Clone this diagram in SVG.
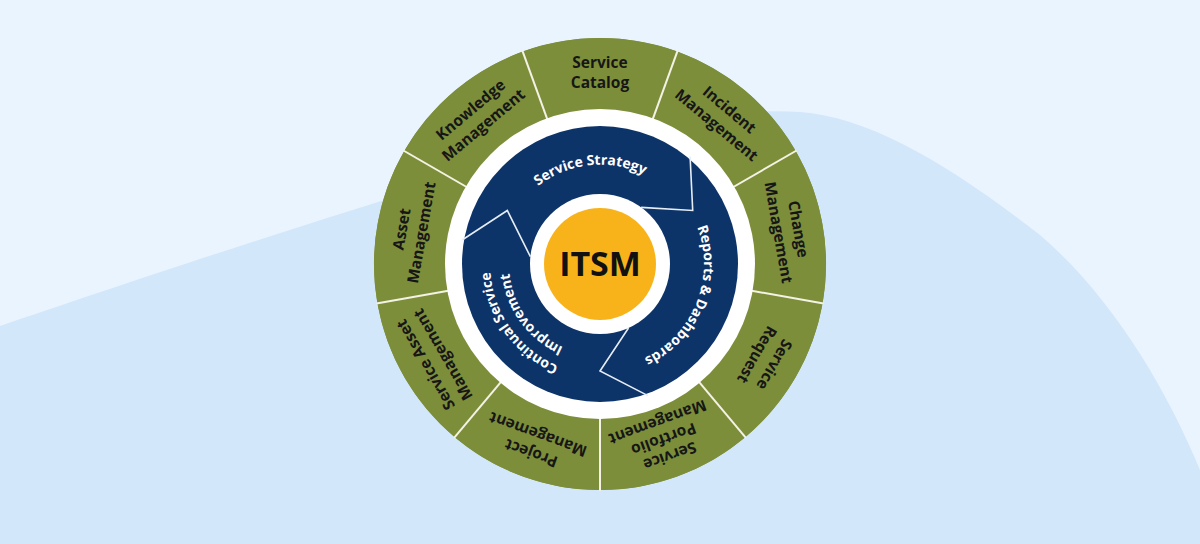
<svg xmlns="http://www.w3.org/2000/svg" xmlns:xlink="http://www.w3.org/1999/xlink" width="1200" height="544" viewBox="0 0 1200 544">
<style>
.bg{fill:#eaf4fe}
.wave{fill:#d3e7fb}
.sector{fill:#7d8e3b}
.seg{font-family:"Open Sans","Liberation Sans",sans-serif;font-weight:700;font-size:15.5px;fill:#161616;text-anchor:middle}
.arc{font-family:"Open Sans","Liberation Sans",sans-serif;font-weight:700;font-size:14px;fill:#ffffff}
.div{stroke:#f4f2e4;stroke-width:2}
.chev{fill:none;stroke:#e6edf5;stroke-width:1.6;stroke-linejoin:miter}
</style>
<defs>
<path id="sector" d="M522.7,51.6 A226,226 0 0 1 677.3,51.6 L653.0,118.35 A155,155 0 0 0 547.0,118.35 Z"/>
<line id="divider" x1="600" y1="110" x2="600" y2="37"/>
<path id="p-strategy" d="M498.6,274.7 A102,102 0 0 1 701.4,253.3"/>
<path id="p-reports" d="M638.96,167.57 A104,104 0 0 1 561.04,360.43"/>
<path id="p-csi1" d="M664.66,352.99 A110,110 0 0 1 535.34,175.01"/>
<path id="p-csi2" d="M653.49,337.62 A91,91 0 0 1 546.51,190.38"/>
</defs>
<rect class="bg" x="0" y="0" width="1200" height="544"/>
<path class="wave" d="M0,326 C120,285 300,225 450,180 C560,148 700,105 800,112 C870,117 950,165 1040,235 C1110,295 1165,385 1200,470 L1200,544 L0,544 Z"/>

<g id="wheel-base">
<circle cx="600" cy="264" r="226" fill="#7d8e3b"/>
</g>

<g id="seg-service-catalog">
<use xlink:href="#sector" class="sector"/>
<text class="seg" x="600" y="68">Service</text>
<text class="seg" x="600" y="88">Catalog</text>
</g>
<g id="seg-incident-management" transform="rotate(40 600 264)">
<use xlink:href="#sector" class="sector"/>
<text class="seg" x="600" y="68">Incident</text>
<text class="seg" x="600" y="88">Management</text>
</g>
<g id="seg-change-management" transform="rotate(80 600 264)">
<use xlink:href="#sector" class="sector"/>
<text class="seg" x="600" y="68">Change</text>
<text class="seg" x="600" y="88">Management</text>
</g>
<g id="seg-service-request" transform="rotate(120 600 264)">
<use xlink:href="#sector" class="sector"/>
<text class="seg" x="600" y="68">Service</text>
<text class="seg" x="600" y="88">Request</text>
</g>
<g id="seg-service-portfolio-management" transform="rotate(160 600 264)">
<use xlink:href="#sector" class="sector"/>
<text class="seg" x="600" y="65">Service</text>
<text class="seg" x="600" y="83">Portfolio</text>
<text class="seg" x="600" y="101">Management</text>
</g>
<g id="seg-project-management" transform="rotate(200 600 264)">
<use xlink:href="#sector" class="sector"/>
<text class="seg" x="600" y="68">Project</text>
<text class="seg" x="600" y="88">Management</text>
</g>
<g id="seg-service-asset-management" transform="rotate(240 600 264)">
<use xlink:href="#sector" class="sector"/>
<text class="seg" x="600" y="68">Service Asset</text>
<text class="seg" x="600" y="88">Management</text>
</g>
<g id="seg-asset-management" transform="rotate(280 600 264)">
<use xlink:href="#sector" class="sector"/>
<text class="seg" x="600" y="68">Asset</text>
<text class="seg" x="600" y="88">Management</text>
</g>
<g id="seg-knowledge-management" transform="rotate(320 600 264)">
<use xlink:href="#sector" class="sector"/>
<text class="seg" x="600" y="68">Knowledge</text>
<text class="seg" x="600" y="88">Management</text>
</g>

<g id="connectors">
<use xlink:href="#divider" class="div" transform="rotate(20 600 264)"/>
<use xlink:href="#divider" class="div" transform="rotate(60 600 264)"/>
<use xlink:href="#divider" class="div" transform="rotate(100 600 264)"/>
<use xlink:href="#divider" class="div" transform="rotate(140 600 264)"/>
<use xlink:href="#divider" class="div" transform="rotate(180 600 264)"/>
<use xlink:href="#divider" class="div" transform="rotate(220 600 264)"/>
<use xlink:href="#divider" class="div" transform="rotate(260 600 264)"/>
<use xlink:href="#divider" class="div" transform="rotate(300 600 264)"/>
<use xlink:href="#divider" class="div" transform="rotate(340 600 264)"/>
</g>

<g id="lifecycle">
<circle cx="600" cy="264" r="155" fill="#ffffff"/>
<circle cx="600" cy="264" r="138" fill="#0d3468"/>
<polyline class="chev" points="690.1,156.6 692.7,210.5 641.1,207.4"/>
<polyline class="chev" points="647.9,395.6 600,371 628.5,328.0"/>
<polyline class="chev" points="462.1,240.0 507.3,210.5 530.4,256.7"/>
<text class="arc"><textPath xlink:href="#p-strategy" startOffset="50%" text-anchor="middle">Service Strategy</textPath></text>
<text class="arc"><textPath xlink:href="#p-reports" startOffset="50%" text-anchor="middle">Reports &amp; Dashboards</textPath></text>
<text class="arc"><textPath xlink:href="#p-csi1" startOffset="50%" text-anchor="middle">Continual Service</textPath></text>
<text class="arc"><textPath xlink:href="#p-csi2" startOffset="50%" text-anchor="middle">Improvement</textPath></text>
</g>

<g id="itsm">
<circle cx="600" cy="264" r="70" fill="#ffffff"/>
<circle cx="600" cy="264" r="56" fill="#f8b31b"/>
<text x="600" y="276" font-family="'Open Sans','Liberation Sans',sans-serif" font-weight="700" font-size="34" fill="#111111" text-anchor="middle">ITSM</text>
</g>
</svg>
